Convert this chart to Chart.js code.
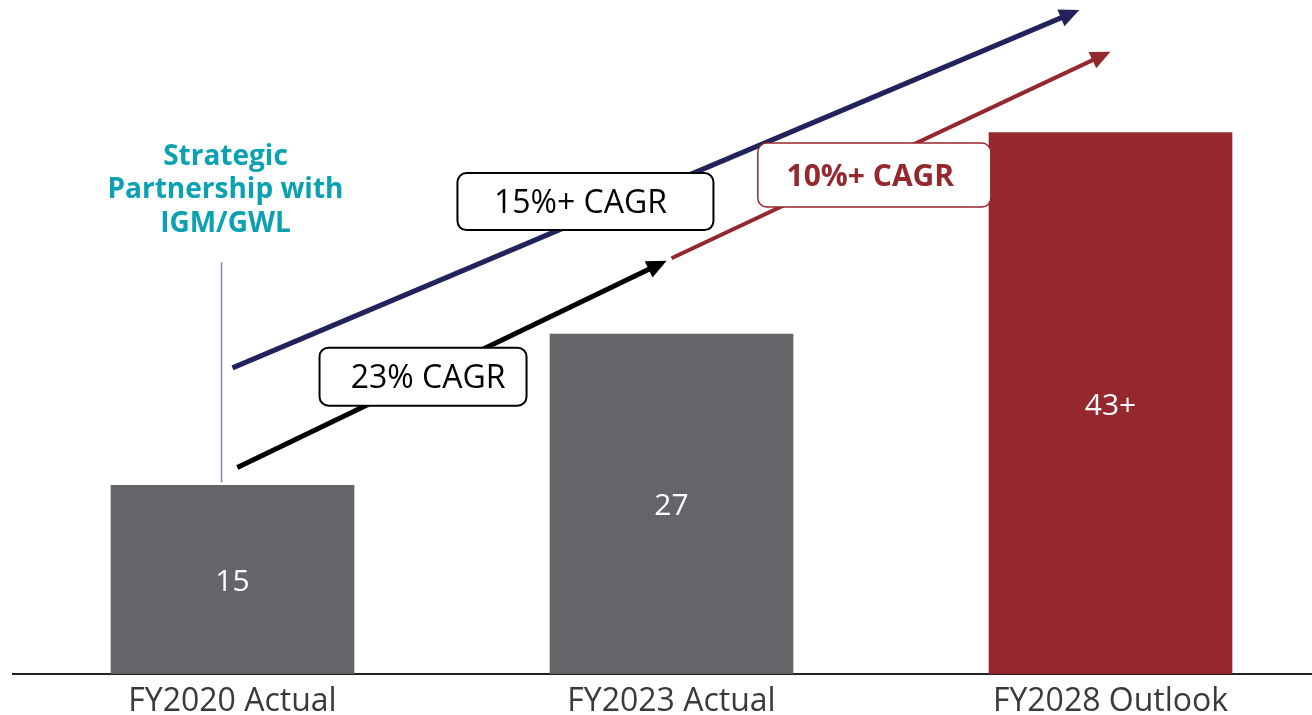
<!DOCTYPE html>
<html>
<head>
<meta charset="utf-8">
<title>Growth Outlook</title>
<script src="https://cdn.jsdelivr.net/npm/chart.js@4.4.1/dist/chart.umd.min.js"></script>
<style>
  html, body { margin: 0; padding: 0; background: #fff; overflow: hidden; }
  #wrap { width: 1330px; height: 715px; }
</style>
</head>
<body>
<div id="wrap"><canvas id="growthChart" width="1330" height="715"></canvas></div>
<script>
// ---------- DATA ----------
const categories = ["FY2020 Actual", "FY2023 Actual", "FY2028 Outlook"];
const values = [15, 27, 43];
const valueSuffix = ["", "", "+"];
const barColors = ["#646569", "#646569", "#95272e"];

// ---------- OVERLAYS (x = category index, y = value units) ----------
const arrows = [
  { from: [0.0, 24.3], to: [1.929, 52.7], color: "#22225c", width: 5 },
  { from: [0.011, 16.4], to: [0.989, 32.8], color: "#000000", width: 5 },
  { from: [1.0, 33.0], to: [2.0, 49.4], color: "#95272e", width: 4 },
];

const cagrBoxes = [
  { text: "23% CAGR", at: [0.434, 23.6], w: 207, h: 58, dx: 5, color: "#000", border: "#000", bold: false },
  { text: "15%+ CAGR", at: [0.804, 37.5], w: 256, h: 57, dx: -5, color: "#000", border: "#000", bold: false },
  { text: "10%+ CAGR", at: [1.462, 39.6], w: 233, h: 64, dx: -4, color: "#95272e", border: "#95272e", bold: true },
];

const noteLines = ["Strategic", "Partnership with", "IGM/GWL"];
const notePos = [-0.016, 38.4];
const markerLine = { x: -0.025, from: 15.2, to: 32.7 };

// ---------- HELPERS ----------
function toPx(chart, pt) {
  const xs = chart.scales.x, ys = chart.scales.y;
  const step = xs.getPixelForValue(1) - xs.getPixelForValue(0);
  return [xs.getPixelForValue(0) + pt[0] * step, ys.getPixelForValue(pt[1])];
}

function roundRect(ctx, x, y, w, h, r) {
  ctx.beginPath();
  ctx.moveTo(x + r, y);
  ctx.arcTo(x + w, y, x + w, y + h, r);
  ctx.arcTo(x + w, y + h, x, y + h, r);
  ctx.arcTo(x, y + h, x, y, r);
  ctx.arcTo(x, y, x + w, y, r);
  ctx.closePath();
}

function drawArrow(ctx, p0, p1, color, width) {
  const ang = Math.atan2(p1[1] - p0[1], p1[0] - p0[0]);
  const headLen = 20, headW = 9;
  const bx = p1[0] - headLen * Math.cos(ang), by = p1[1] - headLen * Math.sin(ang);
  ctx.strokeStyle = color;
  ctx.fillStyle = color;
  ctx.lineWidth = width;
  ctx.lineCap = "butt";
  ctx.beginPath();
  ctx.moveTo(p0[0], p0[1]);
  ctx.lineTo(bx + 2 * Math.cos(ang), by + 2 * Math.sin(ang));
  ctx.stroke();
  ctx.beginPath();
  ctx.moveTo(p1[0], p1[1]);
  ctx.lineTo(bx - headW * Math.sin(ang), by + headW * Math.cos(ang));
  ctx.lineTo(bx + headW * Math.sin(ang), by - headW * Math.cos(ang));
  ctx.closePath();
  ctx.fill();
}

// ---------- PLUGINS ----------
const barLabels = {
  id: "barLabels",
  afterDatasetsDraw(chart) {
    const ctx = chart.ctx;
    const meta = chart.getDatasetMeta(0);
    ctx.save();
    ctx.fillStyle = "#ffffff";
    ctx.font = "30px 'Open Sans'";
    ctx.textAlign = "center";
    ctx.textBaseline = "middle";
    meta.data.forEach((bar, i) => {
      const mid = (bar.y + bar.base) / 2;
      ctx.fillText(values[i] + valueSuffix[i], bar.x, mid + 3);
    });
    ctx.restore();
  },
};

const overlays = {
  id: "overlays",
  afterDraw(chart) {
    const ctx = chart.ctx;
    ctx.save();

    // thin marker under the partnership note
    const m0 = toPx(chart, [markerLine.x, markerLine.to]);
    const m1 = toPx(chart, [markerLine.x, markerLine.from]);
    ctx.strokeStyle = "#8a86a8";
    ctx.lineWidth = 1.5;
    ctx.beginPath();
    ctx.moveTo(m0[0], m0[1]);
    ctx.lineTo(m1[0], m1[1]);
    ctx.stroke();

    // partnership note
    const np = toPx(chart, notePos);
    ctx.fillStyle = "#0aa1b3";
    ctx.font = "bold 28px 'Open Sans'";
    ctx.textAlign = "center";
    ctx.textBaseline = "middle";
    noteLines.forEach((t, i) => ctx.fillText(t, np[0], np[1] + (i - 1) * 33.5));

    // growth arrows
    arrows.forEach(a => drawArrow(ctx, toPx(chart, a.from), toPx(chart, a.to), a.color, a.width));

    // CAGR boxes
    cagrBoxes.forEach(b => {
      const c = toPx(chart, b.at);
      roundRect(ctx, c[0] - b.w / 2, c[1] - b.h / 2, b.w, b.h, 9);
      ctx.fillStyle = "#ffffff";
      ctx.fill();
      ctx.strokeStyle = b.border;
      ctx.lineWidth = b.bold ? 1.5 : 2;
      ctx.stroke();
      ctx.fillStyle = b.color;
      ctx.font = (b.bold ? "bold 30px" : "32px") + " 'Open Sans'";
      ctx.fillText(b.text, c[0] + b.dx, c[1] + 2);
    });

    ctx.restore();
  },
};

// ---------- CHART ----------
new Chart(document.getElementById("growthChart"), {
  type: "bar",
  data: {
    labels: categories,
    datasets: [{
      data: values,
      backgroundColor: barColors,
      barPercentage: 0.555,
      categoryPercentage: 1.0,
    }],
  },
  options: {
    responsive: false,
    devicePixelRatio: 1,
    animation: false,
    layout: { padding: { left: 13, right: 0, top: 0, bottom: 0 } },
    plugins: { legend: { display: false }, tooltip: { enabled: false } },
    scales: {
      x: {
        grid: { display: false, drawTicks: false },
        border: { display: true, color: "#222222", width: 2 },
        ticks: { color: "#3a3a3a", font: { family: "'Open Sans'", size: 32 }, padding: 9 },
        afterFit(scale) { scale.height = 41; },
      },
      y: { display: false, min: 0, max: 53.5 },
    },
  },
  plugins: [barLabels, overlays],
});
</script>
</body>
</html>
